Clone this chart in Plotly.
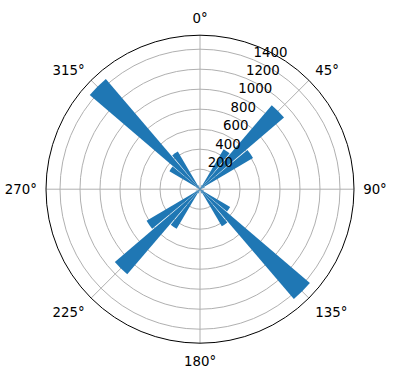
import plotly.graph_objects as go

# bin centers (degrees) and counts
theta_deg = [5, 15, 25, 35, 45, 55, 65, 75, 85, 95, 105, 115, 125, 135, 145, 155, 165, 175,
             185, 195, 205, 215, 225, 235, 245, 255, 265, 275, 285, 295, 305, 315, 325, 335, 345, 355]
counts = [8, 15, 45, 465, 1105, 615, 50, 12, 6, 7, 14, 40, 350, 1445, 430, 45, 12, 6,
          8, 15, 45, 460, 1120, 620, 48, 13, 7, 6, 12, 40, 355, 1450, 437, 42, 14, 7]
angle_ticks = [0, 45, 90, 135, 180, 225, 270, 315]
angle_labels = [f"{a}°" for a in angle_ticks]
r_ticks = [200, 400, 600, 800, 1000, 1200, 1400]
r_max = 1540
r_label_angle = 22.5

fs = 13.33
fig = go.Figure()
fig.add_trace(go.Barpolar(
    r=counts, theta=theta_deg, width=[9] * len(counts),
    marker=dict(color="#1f77b4", line=dict(width=0)),
    hoverinfo="skip",
))
# radial tick labels, placed like matplotlib (left/bottom aligned at 22.5°)
fig.add_trace(go.Scatterpolar(
    r=r_ticks, theta=[r_label_angle] * len(r_ticks),
    text=[str(v) for v in r_ticks], mode="text", textposition="top right",
    textfont=dict(family="DejaVu Sans", size=fs, color="black"),
    cliponaxis=False, hoverinfo="skip",
))

W, H = 396, 380
cx, cy, R = 200, 189.2, 154
fig.update_layout(
    width=W, height=H,
    margin=dict(l=0, r=0, t=0, b=0),
    paper_bgcolor="white",
    showlegend=False,
    font=dict(family="DejaVu Sans", size=fs, color="black"),
    polar=dict(
        domain=dict(x=[(cx - R) / W, (cx + R) / W], y=[(H - cy - R) / H, (H - cy + R) / H]),
        bgcolor="white",
        bargap=0,
        radialaxis=dict(
            range=[0, r_max], tickvals=r_ticks,
            angle=67.5, showline=False, ticks="", showticklabels=False,
            gridcolor="#b0b0b0", gridwidth=1,
        ),
        angularaxis=dict(
            rotation=90, direction="clockwise",
            tickmode="array", tickvals=angle_ticks, ticktext=angle_labels,
            showline=True, linecolor="black", linewidth=1,
            gridcolor="#b0b0b0", gridwidth=1,
            ticks="outside", ticklen=6, tickcolor="rgba(0,0,0,0)",
            tickfont=dict(family="DejaVu Sans", size=fs, color="black"),
        ),
    ),
)
fig.write_html("out.html")
